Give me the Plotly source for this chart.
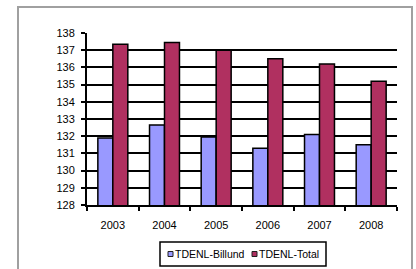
import plotly.graph_objects as go

years = ["2003", "2004", "2005", "2006", "2007", "2008"]
billund = [131.9, 132.65, 131.95, 131.3, 132.1, 131.5]
total = [137.35, 137.45, 137.0, 136.5, 136.2, 135.2]
series_names = ["TDENL-Billund", "TDENL-Total"]
series_colors = ["#9999FF", "#B03060"]

W, H = 416, 269
L, R, T, B = 87, 19, 33, 64
pw, ph = W - L - R, H - T - B

def px_x(x):
    return (x - L) / pw

def px_y(y):
    return (H - B - y) / ph

fig = go.Figure()
for name, vals, col in zip(series_names, [billund, total], series_colors):
    fig.add_trace(go.Bar(name=name, x=years, y=vals, showlegend=False,
                         marker=dict(color=col, line=dict(color="black", width=1.5))))

shapes = [dict(type="rect", xref="paper", yref="paper",
               x0=px_x(18), x1=px_x(412), y0=px_y(285), y1=px_y(7),
               line=dict(color="#A0A0A0", width=2), fillcolor="rgba(0,0,0,0)", layer="below"),
          # legend box
          dict(type="rect", xref="paper", yref="paper",
               x0=px_x(160), x1=px_x(326), y0=px_y(266), y1=px_y(242),
               line=dict(color="black", width=1.5), fillcolor="white")]
annotations = []
leg_marker_x = [168, 252]
leg_text_x = [174, 257.5]
for name, col, mx, tx in zip(series_names, series_colors, leg_marker_x, leg_text_x):
    shapes.append(dict(type="rect", xref="paper", yref="paper",
                       x0=px_x(mx), x1=px_x(mx + 5), y0=px_y(256.5), y1=px_y(251.5),
                       line=dict(color="#202020", width=1), fillcolor=col))
    annotations.append(dict(text=name, xref="paper", yref="paper", x=px_x(tx), y=px_y(254),
                            xanchor="left", yanchor="middle", showarrow=False,
                            font=dict(size=10.5, color="black"), xshift=-1))

fig.update_layout(
    width=W, height=H,
    margin=dict(l=L, r=R, t=T, b=B),
    paper_bgcolor="white", plot_bgcolor="white",
    barmode="group", bargap=0.42, bargroupgap=0,
    font=dict(family="Liberation Sans, Arial, sans-serif", size=11, color="black"),
    showlegend=False,
    shapes=shapes, annotations=annotations,
)
fig.update_yaxes(range=[128, 138], dtick=1, showgrid=True, gridcolor="black", gridwidth=2,
                 showline=True, linecolor="black", linewidth=2, ticks="outside", ticklen=4,
                 tickcolor="black", tickwidth=1.5, zeroline=False, fixedrange=True,
                 ticklabelstandoff=4)
fig.update_xaxes(showline=True, linecolor="black", linewidth=2, ticks="outside", ticklen=4,
                 tickcolor="black", tickwidth=1.5, tickson="boundaries", showgrid=False,
                 ticklabelstandoff=9, fixedrange=True)

fig.write_html("out.html", config={"displayModeBar": False},
               post_script="document.body.style.margin='0';document.body.style.overflow='hidden';")
